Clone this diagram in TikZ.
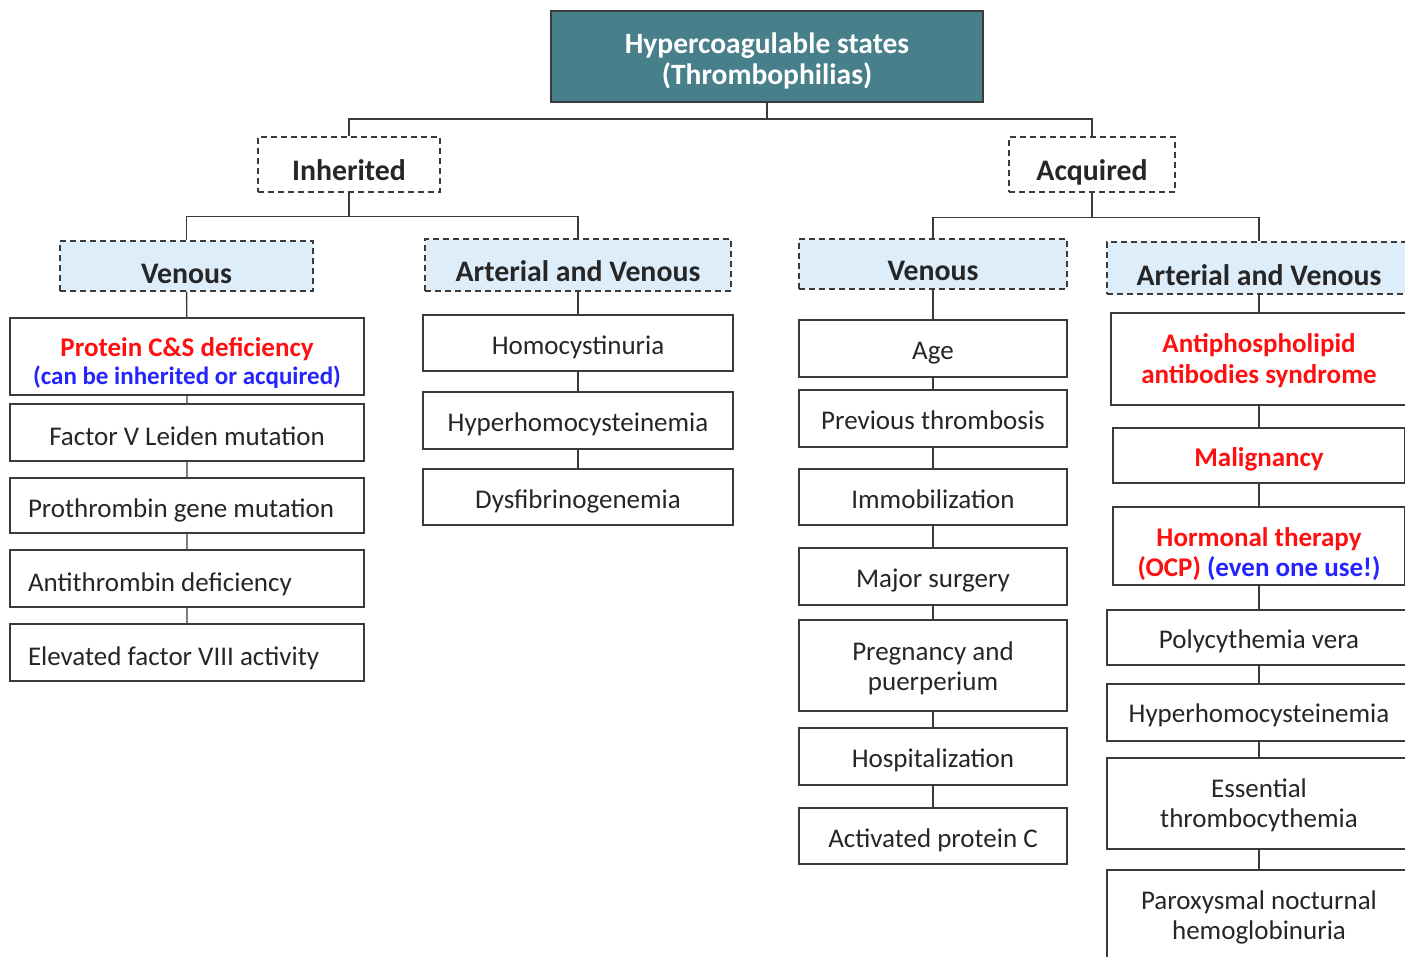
\documentclass[tikz,border=0pt]{standalone}
\usepackage{fontspec}
\setmainfont{Carlito}
\definecolor{teal1}{HTML}{477F8B}
\definecolor{lblue}{HTML}{DEEDFA}
\definecolor{txt}{HTML}{262626}
\definecolor{lin}{HTML}{3A3A3A}
\definecolor{rd}{HTML}{FF1010}
\definecolor{bl}{HTML}{2424FF}
% centred label, lowered by #1 inside its box
\newcommand\lbl[2][5pt]{\raisebox{-#1}[\height][\depth]{\begin{tabular}{@{}c@{}}#2\end{tabular}}}
% left-aligned label of fixed width
\newcommand\lbll[2][5pt]{\raisebox{-#1}[\height][\depth]{\begin{tabular}{@{}p{318pt}@{}}#2\end{tabular}}}
\tikzset{
  base/.style={draw=lin, line width=1.3pt, inner sep=0pt, text=txt,
    font=\fontsize{27}{30}\selectfont},
  titlebox/.style={base, fill=teal1, text=white, line width=1.6pt, font=\fontsize{29.5}{31}\selectfont\bfseries},
  hdr/.style={base, fill=white, dash pattern=on 6pt off 4pt, font=\fontsize{29.8}{32}\selectfont\bfseries},
  sub/.style={hdr, fill=lblue},
  box/.style={base, fill=white},
  conn/.style={draw=lin, line width=1.4pt},
}
\begin{document}
\begin{tikzpicture}[x=1pt,y=-1pt]
\useasboundingbox (0,0) rectangle (1405,956);
\clip (0,0) rectangle (1405,956);
% title and level 1
\node[titlebox, minimum width=432pt, minimum height=91pt] (title) at (767,56.5) {\lbl[6pt]{Hypercoagulable states\\(Thrombophilias)}};
\node[hdr, minimum width=182pt, minimum height=55pt] (inh) at (349,164.5) {\lbl[10pt]{Inherited}};
\node[hdr, minimum width=166pt, minimum height=55pt] (acq) at (1092,164.5) {\lbl[10pt]{Acquired}};
% level 2
\node[sub, minimum width=253pt, minimum height=50pt] (lv) at (186.5,266) {\lbl[11pt]{Venous}};
\node[sub, minimum width=306pt, minimum height=52pt] (lav) at (578,265) {\lbl[10.5pt]{Arterial and Venous}};
\node[sub, minimum width=268pt, minimum height=50pt] (rv) at (933,264) {\lbl[10.5pt]{Venous}};
\node[sub, minimum width=304pt, minimum height=52pt] (rav) at (1259,268) {\lbl[11.5pt]{Arterial and Venous}};
% left venous column
\node[box, minimum width=354pt, minimum height=77pt, font=\fontsize{27}{28}\selectfont] (pcs) at (187,356.5) {\lbl[8.5pt]{\bfseries\color{rd}Protein C\&S deficiency\\\bfseries\fontsize{25}{28}\selectfont\color{bl}(can be inherited or acquired)}};
\node[box, minimum width=354pt, minimum height=57pt] (fvl) at (187,432.5) {\lbl[7pt]{Factor V Leiden mutation}};
\node[box, minimum width=354pt, minimum height=55pt] (pgm) at (187,505.5) {\lbll[5.5pt]{Prothrombin gene mutation}};
\node[box, minimum width=354pt, minimum height=57pt] (atd) at (187,578.5) {\lbll[6.5pt]{Antithrombin deficiency}};
\node[box, minimum width=354pt, minimum height=57pt] (ef8) at (187,652.5) {\lbll[6.5pt]{Elevated factor VIII activity}};
% left arterial and venous column
\node[box, minimum width=310pt, minimum height=56pt] (hcu) at (578,343) {\lbl{Homocystinuria}};
\node[box, minimum width=310pt, minimum height=57pt] (hhc) at (578,420.5) {\lbl{Hyperhomocysteinemia}};
\node[box, minimum width=310pt, minimum height=56pt] (dfg) at (578,497) {\lbl{Dysfibrinogenemia}};
% right venous column
\node[box, minimum width=268pt, minimum height=57pt] (age) at (933,348.5) {\lbl[4.5pt]{Age}};
\node[box, minimum width=268pt, minimum height=57pt] (prev) at (933,418.5) {\lbl[4.5pt]{Previous thrombosis}};
\node[box, minimum width=268pt, minimum height=56pt] (imm) at (933,497) {\lbl{Immobilization}};
\node[box, minimum width=268pt, minimum height=57pt] (surg) at (933,576.5) {\lbl{Major surgery}};
\node[box, minimum width=268pt, minimum height=91pt] (preg) at (933,665.5) {\lbl[4pt]{Pregnancy and\\puerperium}};
\node[box, minimum width=268pt, minimum height=57pt] (hosp) at (933,756.5) {\lbl{Hospitalization}};
\node[box, minimum width=268pt, minimum height=56pt] (apc) at (933,836) {\lbl{Activated protein C}};
% right arterial and venous column
\node[box, minimum width=296pt, minimum height=92pt, font=\fontsize{27}{31}\selectfont] (apl) at (1259,359) {\lbl[2.5pt]{\bfseries\color{rd}Antiphospholipid\\\bfseries\color{rd}antibodies syndrome}};
\node[box, minimum width=292pt, minimum height=55pt] (mal) at (1259,455.5) {\lbl[4.5pt]{\bfseries\color{rd}Malignancy}};
\node[box, minimum width=292pt, minimum height=78pt] (horm) at (1259,546) {\lbl[9pt]{\bfseries\color{rd}Hormonal therapy\\\bfseries\color{rd}(OCP) \color{bl}(even one use!)}};
\node[box, minimum width=304pt, minimum height=55pt] (pv) at (1259,637.5) {\lbl[4.5pt]{Polycythemia vera}};
\node[box, minimum width=304pt, minimum height=57pt] (hhc2) at (1259,712.5) {\lbl[4pt]{Hyperhomocysteinemia}};
\node[box, minimum width=304pt, minimum height=91pt] (et) at (1259,803.5) {\lbl[2.5pt]{Essential\\thrombocythemia}};
\node[box, minimum width=304pt, minimum height=91pt] (pnh) at (1259,915.5) {\lbl[2.5pt]{Paroxysmal nocturnal\\hemoglobinuria}};
% connectors
\draw[conn] (title.south) -- ++(0,16) -| (inh.north);
\draw[conn] (title.south) -- ++(0,16) -| (acq.north);
\draw[conn] (inh.south) -- ++(0,24) -| (lv.north);
\draw[conn] (inh.south) -- ++(0,24) -| (lav.north);
\draw[conn] (acq.south) -- ++(0,25) -| (rv.north);
\draw[conn] (acq.south) -- ++(0,25) -| (rav.north);
\draw[conn] (lv) -- (pcs) (pcs) -- (fvl) (fvl) -- (pgm) (pgm) -- (atd) (atd) -- (ef8);
\draw[conn] (lav) -- (hcu) (hcu) -- (hhc) (hhc) -- (dfg);
\draw[conn] (rv) -- (age) (age) -- (prev) (prev) -- (imm) (imm) -- (surg) (surg) -- (preg) (preg) -- (hosp) (hosp) -- (apc);
\draw[conn] (rav) -- (apl) (apl) -- (mal) (mal) -- (horm) (horm) -- (pv) (pv) -- (hhc2) (hhc2) -- (et) (et) -- (pnh);
\end{tikzpicture}
\end{document}
